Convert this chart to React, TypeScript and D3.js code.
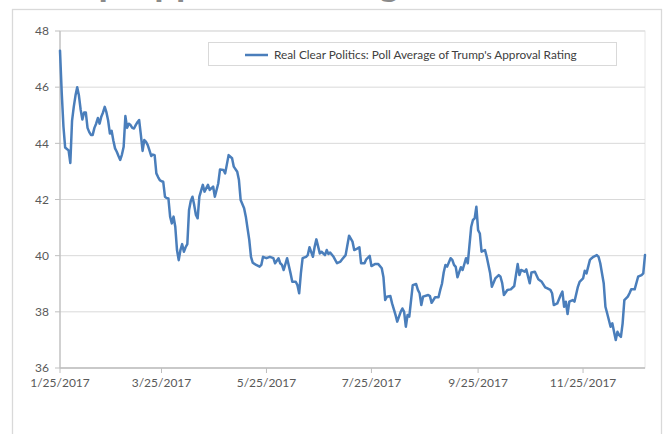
import React from "react";
import * as d3 from "d3";

const startDate = new Date(2017, 0, 25);
const endDate = new Date(2017, 11, 31);

// days since 2017-01-25
const dayOffsets = [
  0, 1, 2, 3, 4, 5, 6, 7, 8, 9, 10, 11, 12, 13, 14, 15, 16, 17, 18, 19, 20, 21, 22, 23, 24, 25, 26, 27, 28, 29,
  30, 31, 32, 33, 34, 35, 36, 37, 38, 39, 40, 41, 42, 43, 44, 45, 46, 47, 48, 49, 50, 51, 52, 53, 54, 55, 56, 57, 58, 59,
  60, 61, 62, 63, 64, 65, 66, 67, 68, 69, 70, 71, 72, 73, 74, 75, 76, 77, 78, 79, 80, 81, 83, 84, 86, 87, 89, 90, 92, 93,
  95, 96, 98, 100, 101, 103, 104, 105, 107, 108, 109, 110, 111, 112, 114, 116, 117, 118, 120, 122, 124, 125, 127, 128, 129, 130, 132, 134, 135, 137,
  138, 139, 140, 141, 143, 144, 145, 147, 148, 149, 151, 152, 154, 155, 156, 157, 159, 161, 163, 164, 166, 168, 170, 171, 173, 174, 175, 177, 178, 180,
  181, 183, 185, 187, 188, 189, 190, 192, 193, 195, 196, 198, 199, 200, 201, 202, 203, 205, 207, 208, 209, 210, 211, 214, 215, 216, 218, 220, 221, 222,
  223, 224, 225, 227, 228, 229, 230, 231, 233, 234, 236, 237, 239, 240, 241, 242, 243, 244, 245, 247, 248, 250, 251, 253, 255, 256, 257, 258, 260, 262,
  264, 265, 266, 267, 268, 270, 271, 273, 274, 276, 278, 280, 282, 283, 285, 286, 287, 289, 291, 292, 293, 294, 295, 296, 298, 299, 301, 302, 304, 305,
  306, 308, 309, 310, 312, 313, 314, 316, 317, 318, 320, 321, 322, 323, 324, 325, 326, 327, 328, 330, 331, 332, 334, 336, 338, 339, 340,
];

const approval = [
  47.3, 45.8, 44.6, 43.85, 43.8, 43.75, 43.3, 44.8, 45.3, 45.7, 46.0, 45.7, 45.2, 44.85, 45.1, 45.1, 44.55, 44.4, 44.3, 44.3, 44.55, 44.7, 44.9, 44.7, 44.95, 45.1, 45.3, 45.1, 44.8, 44.35,
  44.45, 44.1, 43.82, 43.7, 43.55, 43.41, 43.6, 43.88, 44.97, 44.55, 44.7, 44.65, 44.55, 44.53, 44.65, 44.75, 44.83, 44.3, 43.73, 44.12, 44.05, 43.94, 43.75, 43.55, 43.6, 43.58, 42.93, 42.8, 42.69, 42.65,
  42.63, 42.1, 42.05, 42.04, 41.39, 41.15, 41.39, 41.03, 40.2, 39.84, 40.2, 40.41, 40.14, 40.3, 40.41, 41.63, 41.95, 42.1, 41.8, 41.45, 41.33, 42.1, 42.52, 42.28, 42.52, 42.34, 42.46, 42.1, 42.58, 43.07,
  43.05, 42.93, 43.58, 43.47, 43.17, 42.99, 42.69, 41.98, 41.69, 41.39, 40.97, 40.56, 39.96, 39.75, 39.67, 39.61, 39.67, 39.96, 39.91, 39.96, 39.91, 39.73, 39.91, 39.73, 39.67, 39.49, 39.91, 39.37, 39.07, 39.07,
  38.95, 38.66, 39.37, 39.91, 39.96, 40.02, 40.3, 39.96, 40.32, 40.58, 40.08, 40.14, 40.02, 40.2, 40.06, 40.11, 39.96, 39.73, 39.79, 39.87, 40.02, 40.71, 40.5, 40.2, 40.26, 40.3, 39.73, 39.73, 39.87, 39.99,
  39.63, 39.7, 39.7, 39.55, 39.23, 38.42, 38.54, 38.56, 38.3, 37.89, 37.65, 38.0, 38.12, 38.0, 37.47, 37.89, 37.83, 38.95, 38.99, 38.78, 38.66, 38.24, 38.54, 38.6, 38.56, 38.32, 38.52, 38.52, 38.78, 39.0,
  39.4, 39.67, 39.61, 39.91, 39.85, 39.67, 39.6, 39.23, 39.59, 39.49, 39.91, 39.73, 41.03, 41.27, 41.33, 41.74, 40.91, 40.79, 40.14, 40.2, 39.96, 39.37, 38.89, 39.19, 39.31, 39.25, 39.02, 38.6, 38.78, 38.8,
  38.92, 39.31, 39.7, 39.31, 39.49, 39.43, 39.51, 39.02, 39.4, 39.43, 39.16, 39.07, 38.87, 38.84, 38.78, 38.66, 38.24, 38.3, 38.6, 38.72, 38.18, 38.36, 37.92, 38.36, 38.42, 38.36, 38.89, 39.07, 39.19, 39.46,
  39.37, 39.85, 39.91, 39.96, 40.02, 39.96, 39.73, 39.02, 38.18, 37.95, 37.47, 37.59, 37.29, 37.0, 37.29, 37.17, 37.11, 37.59, 38.42, 38.54, 38.66, 38.8, 38.8, 39.25, 39.31, 39.37, 40.02,
];

const xTickDates = ["2017-01-25", "2017-03-25", "2017-05-25", "2017-07-25", "2017-09-25", "2017-11-25"];
const yTicks = [36, 38, 40, 42, 44, 46, 48];
const seriesName = "Real Clear Politics: Poll Average of Trump's Approval Rating";
const titleText = "Trump Approval Rating";

const W = 665;
const H = 434;
const plot = { left: 60, right: 645, top: 31, bottom: 368 };
const FONT = "Lato, 'Liberation Sans', sans-serif";
const LINE_COLOR = "#4A7EBB";

export default function App() {
  const x = d3.scaleTime().domain([startDate, endDate]).range([plot.left, plot.right]);
  const y = d3.scaleLinear().domain([36, 48]).range([plot.bottom, plot.top]);
  const parse = d3.timeParse("%Y-%m-%d");
  const fmt = d3.timeFormat("%-m/%-d/%Y");

  const data = dayOffsets.map((d, i) => ({ date: d3.timeDay.offset(startDate, d), value: approval[i] }));
  const line = d3
    .line<{ date: Date; value: number }>()
    .x((d) => x(d.date))
    .y((d) => y(d.value));

  const ticksX = xTickDates.map((s) => parse(s) as Date);

  return (
    <svg
      width={W}
      height={H}
      style={{ position: "absolute", left: 0, top: 0, background: "#fff" }}
      fontFamily={FONT}
    >
      <rect x={0} y={0} width={W} height={H} fill="#fff" />
      <text x={12} y={-4} fontSize={38} fontWeight="bold" fill="#8a8a8a">
        {titleText}
      </text>
      {/* chart border */}
      <rect x={12.5} y={9.5} width={649} height={440} fill="#fff" stroke="#d9d9d9" strokeWidth={1.3} />
      {/* plot area border */}
      <rect
        x={plot.left}
        y={plot.top}
        width={plot.right - plot.left}
        height={plot.bottom - plot.top}
        fill="none"
        stroke="#e6e6e6"
        strokeWidth={1}
      />
      {/* gridlines */}
      {yTicks.map((t) => (
        <line key={"g" + t} x1={plot.left} x2={plot.right} y1={y(t)} y2={y(t)} stroke="#d9d9d9" strokeWidth={1} />
      ))}
      {/* y axis */}
      <line x1={plot.left} x2={plot.left} y1={plot.top} y2={plot.bottom} stroke="#bfbfbf" strokeWidth={1.3} />
      {yTicks.map((t) => (
        <g key={"y" + t}>
          <line x1={plot.left - 5} x2={plot.left} y1={y(t)} y2={y(t)} stroke="#bfbfbf" strokeWidth={1} />
          <text x={plot.left - 11} y={y(t)} dy="0.35em" textAnchor="end" fontSize={12} fill="#595959">
            {t}
          </text>
        </g>
      ))}
      {/* x axis */}
      <line x1={plot.left} x2={plot.right} y1={plot.bottom} y2={plot.bottom} stroke="#bfbfbf" strokeWidth={1.3} />
      {ticksX.map((d, i) => (
        <g key={"x" + i}>
          <line x1={x(d)} x2={x(d)} y1={plot.bottom} y2={plot.bottom + 5} stroke="#bfbfbf" strokeWidth={1} />
          <text x={x(d)} y={plot.bottom + 19} textAnchor="middle" fontSize={12} fill="#595959">
            {fmt(d)}
          </text>
        </g>
      ))}
      {/* series */}
      <path
        d={line(data) || ""}
        fill="none"
        stroke={LINE_COLOR}
        strokeWidth={2.5}
        strokeLinejoin="round"
        strokeLinecap="round"
      />
      {/* legend */}
      <rect x={208.5} y={42.5} width={408} height={23} fill="#fff" stroke="#d9d9d9" strokeWidth={1} />
      <line x1={245} x2={268} y1={55} y2={55} stroke={LINE_COLOR} strokeWidth={2.5} />
      <text x={274} y={55} dy="0.35em" fontSize={11.8} fill="#404040">
        {seriesName}
      </text>
    </svg>
  );
}
